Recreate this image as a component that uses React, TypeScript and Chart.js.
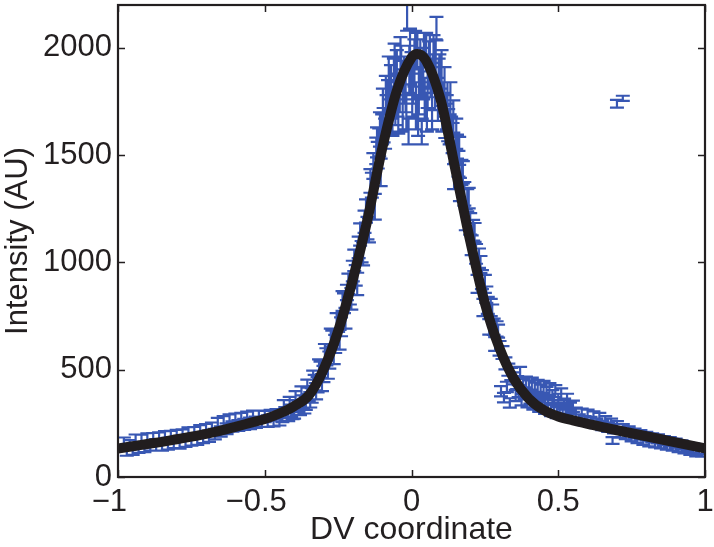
import React, { useEffect, useRef } from "react";
import { Chart, registerables } from "chart.js";

Chart.register(...registerables);

// ---- Measured profile (blue error bars), read region by region ----
const leftTailX = [-0.98, -0.97, -0.96, -0.95, -0.94, -0.93, -0.92, -0.91, -0.9, -0.89, -0.88, -0.87, -0.86, -0.85, -0.84, -0.83, -0.82, -0.81, -0.8, -0.79, -0.78, -0.77, -0.76, -0.75, -0.74, -0.73, -0.72, -0.71, -0.7, -0.69, -0.68, -0.67, -0.66, -0.65, -0.64, -0.63, -0.62, -0.61, -0.6, -0.59, -0.58, -0.57, -0.56, -0.55, -0.54, -0.53, -0.52, -0.51, -0.5, -0.49, -0.48, -0.47, -0.46, -0.45];
const leftTailY = [160, 125, 150, 128, 170, 135, 172, 140, 178, 145, 180, 150, 185, 148, 190, 155, 192, 160, 196, 158, 200, 165, 205, 170, 210, 175, 215, 182, 222, 190, 230, 200, 248, 212, 258, 225, 265, 235, 270, 240, 275, 245, 280, 250, 285, 255, 285, 258, 282, 260, 288, 262, 292, 268];
const leftTailErr = [24, 26, 22, 25, 28, 23, 25, 24, 26, 22, 25, 27, 23, 25, 24, 27, 23, 25, 24, 26, 22, 25, 27, 24, 23, 25, 27, 24, 25, 26, 24, 25, 28, 24, 26, 25, 27, 24, 26, 25, 24, 26, 25, 27, 24, 26, 25, 24, 26, 27, 25, 26, 24, 28];

const leftFlankX = [-0.44, -0.43, -0.42, -0.41, -0.4, -0.39, -0.38, -0.37, -0.36, -0.35, -0.34, -0.33, -0.32, -0.31, -0.3, -0.29, -0.28, -0.27, -0.26, -0.25, -0.24, -0.23, -0.22, -0.21, -0.2, -0.19, -0.18, -0.17, -0.16, -0.15, -0.14, -0.13, -0.12, -0.11, -0.1];
const leftFlankY = [280, 300, 285, 310, 298, 330, 318, 350, 345, 385, 380, 440, 430, 500, 480, 560, 545, 640, 620, 720, 700, 810, 860, 850, 960, 940, 1070, 1050, 1190, 1160, 1380, 1450, 1520, 1560, 1620];
const leftFlankErr = [24, 26, 25, 28, 26, 28, 30, 30, 32, 32, 34, 36, 36, 38, 38, 40, 40, 42, 42, 44, 44, 46, 36, 46, 48, 48, 50, 50, 52, 52, 55, 60, 62, 65, 70];

const leftFlank2X = [-0.435, -0.425, -0.415, -0.405, -0.395, -0.385, -0.375, -0.365, -0.355, -0.345, -0.335, -0.325, -0.315, -0.305, -0.295, -0.285, -0.275, -0.265, -0.255, -0.245, -0.235, -0.225, -0.215, -0.205, -0.195, -0.185, -0.175, -0.165, -0.155, -0.145, -0.135, -0.125, -0.115, -0.105];
const leftFlank2Y = [330, 290, 345, 300, 370, 320, 390, 330, 420, 360, 460, 400, 510, 440, 580, 500, 650, 570, 720, 640, 820, 740, 900, 830, 1010, 900, 1130, 1040, 1240, 1150, 1360, 1260, 1500, 1420];
const leftFlank2Err = [28, 30, 28, 30, 30, 32, 32, 34, 34, 36, 36, 38, 38, 40, 40, 42, 42, 44, 44, 46, 46, 48, 48, 50, 50, 52, 52, 54, 54, 56, 58, 60, 62, 64];

const peakX = [-0.095, -0.09, -0.085, -0.08, -0.075, -0.07, -0.065, -0.06, -0.055, -0.05, -0.045, -0.04, -0.035, -0.03, -0.025, -0.02, -0.015, -0.01, -0.005, 0, 0.005, 0.01, 0.015, 0.02, 0.025, 0.03, 0.035, 0.04, 0.045, 0.05, 0.055, 0.06, 0.065, 0.07, 0.075, 0.08, 0.085, 0.09, 0.095, 0.1, 0.105, 0.11, 0.115, 0.12, 0.125, 0.13];
const peakY = [1640, 1600, 1700, 1760, 1680, 1820, 1630, 1860, 1740, 1900, 1700, 1800, 1920, 1720, 1860, 1790, 2140, 1610, 1960, 1880, 1850, 1930, 1720, 1990, 1800, 1940, 1610, 1880, 1760, 1980, 1820, 1920, 1860, 1720, 1960, 1820, 2090, 1760, 1880, 1820, 1700, 1760, 1660, 1700, 1640, 1620];
const peakErr = [80, 70, 80, 90, 80, 100, 40, 90, 100, 90, 100, 100, 90, 110, 100, 90, 60, 60, 130, 100, 110, 110, 100, 80, 110, 100, 60, 120, 100, 90, 100, 110, 90, 100, 100, 110, 55, 100, 90, 90, 90, 80, 80, 80, 75, 70];

const peak2X = [-0.1175, -0.1075, -0.0975, -0.0875, -0.0775, -0.0675, -0.0575, -0.0475, -0.0375, -0.0275, -0.0175, -0.0075, 0.0025, 0.0125, 0.0225, 0.0325, 0.0425, 0.0525, 0.0625, 0.0725, 0.0825, 0.0925, 0.1025, 0.1125, 0.1225, 0.1325, 0.1425, 0.1525, 0.1625];
const peak2Y = [1560, 1620, 1720, 1780, 1860, 1700, 1920, 1780, 1960, 1840, 1700, 1900, 1780, 1990, 1680, 1860, 1990, 1700, 1960, 1880, 1940, 1860, 1900, 1820, 1760, 1760, 1680, 1600, 1520];
const peak2Err = [70, 80, 90, 90, 100, 90, 100, 100, 90, 100, 80, 110, 100, 90, 90, 100, 80, 90, 100, 90, 100, 90, 90, 90, 80, 80, 75, 70, 65];

const rightFlankX = [0.14, 0.15, 0.16, 0.17, 0.18, 0.19, 0.2, 0.21, 0.22, 0.23, 0.24, 0.25, 0.26, 0.27, 0.28, 0.29, 0.3, 0.305, 0.31, 0.315, 0.32, 0.325, 0.33, 0.335, 0.34];
const rightFlankY = [1580, 1530, 1460, 1420, 1320, 1290, 1180, 1150, 1040, 1020, 920, 900, 800, 790, 700, 690, 600, 400, 580, 370, 530, 420, 500, 345, 480];
const rightFlankErr = [70, 65, 60, 58, 55, 52, 50, 48, 46, 45, 44, 42, 40, 40, 38, 36, 34, 24, 30, 22, 28, 24, 28, 22, 28];

const rightFlank2X = [0.135, 0.145, 0.155, 0.165, 0.175, 0.185, 0.195, 0.205, 0.215, 0.225, 0.235, 0.245, 0.255, 0.265, 0.275, 0.285, 0.295];
const rightFlank2Y = [1620, 1400, 1540, 1340, 1420, 1200, 1300, 1080, 1140, 900, 990, 790, 850, 700, 770, 620, 680];
const rightFlank2Err = [60, 58, 56, 54, 52, 50, 48, 46, 44, 42, 40, 40, 38, 36, 34, 32, 30];

const rightTailX = [0.35, 0.36, 0.37, 0.38, 0.39, 0.4, 0.41, 0.42, 0.43, 0.44, 0.45, 0.46, 0.47, 0.48, 0.49, 0.5, 0.51, 0.52, 0.53, 0.54, 0.55, 0.56, 0.57, 0.58, 0.59, 0.6, 0.61, 0.62, 0.63, 0.64, 0.65, 0.66, 0.67, 0.68, 0.685, 0.69, 0.7, 0.71, 0.72, 0.73, 0.74, 0.75, 0.76, 0.77, 0.78, 0.79, 0.8, 0.81, 0.82, 0.83, 0.84, 0.85, 0.86, 0.87, 0.88, 0.89, 0.9, 0.91, 0.92, 0.93, 0.94, 0.95, 0.96, 0.97, 0.98, 0.99];
const rightTailY = [460, 440, 485, 430, 440, 420, 435, 410, 425, 400, 420, 390, 410, 375, 400, 360, 385, 340, 360, 320, 330, 300, 270, 295, 262, 290, 258, 282, 250, 275, 240, 262, 232, 250, 170, 225, 238, 205, 225, 198, 215, 188, 205, 180, 198, 172, 190, 165, 182, 160, 178, 155, 170, 150, 165, 145, 158, 138, 150, 132, 142, 125, 135, 118, 128, 115];
const rightTailErr = [28, 30, 28, 30, 28, 30, 28, 30, 28, 30, 28, 30, 28, 30, 28, 28, 28, 26, 28, 26, 26, 24, 22, 24, 22, 24, 22, 24, 22, 24, 22, 22, 22, 22, 16, 22, 22, 22, 21, 22, 21, 22, 21, 22, 21, 22, 21, 22, 21, 22, 21, 22, 21, 22, 21, 22, 21, 22, 21, 22, 21, 22, 21, 22, 21, 20];

const shoulderX = [0.355, 0.365, 0.375, 0.385, 0.395, 0.405, 0.415, 0.425, 0.435, 0.445, 0.455, 0.465, 0.475, 0.485, 0.495, 0.505, 0.515, 0.525, 0.535, 0.545];
const shoulderY = [380, 400, 360, 390, 350, 370, 340, 360, 330, 350, 320, 340, 310, 330, 300, 320, 295, 310, 290, 300];
const shoulderErr = [26, 28, 26, 28, 26, 28, 26, 28, 26, 28, 26, 28, 26, 28, 26, 26, 24, 26, 24, 24];

const outlierX = [0.7, 0.72];
const outlierY = [1740, 1765];
const outlierErr = [18, 12];

// ---- Fitted curve (black) ----
const fitX = [-1, -0.95, -0.9, -0.85, -0.8, -0.75, -0.7, -0.65, -0.6, -0.55, -0.5, -0.45, -0.4, -0.35, -0.3, -0.25, -0.2, -0.15, -0.1, -0.05, 0, 0.02, 0.05, 0.1, 0.15, 0.2, 0.25, 0.3, 0.35, 0.4, 0.45, 0.5, 0.55, 0.6, 0.65, 0.7, 0.75, 0.8, 0.85, 0.9, 0.95, 1];
const fitY = [133, 143, 154, 164, 176, 188, 201, 216, 234, 252, 270, 296, 330, 380, 500, 680, 920, 1200, 1530, 1800, 1955, 1972, 1940, 1755, 1430, 1100, 810, 600, 455, 365, 312, 282, 264, 248, 232, 218, 204, 190, 176, 161, 147, 133];

// ---- Axis ticks ----
const xTicks = [-1, -0.5, 0, 0.5, 1];
const yTicks = [0, 500, 1000, 1500, 2000];

const BAR_COLOR = "#3857b3";
const CURVE_COLOR = "#211d1e";
const INK = "#231f20";
const FONT = "'Liberation Sans', Arial, Helvetica, sans-serif";

function zipRegion(xs: number[], ys: number[], es: number[]) {
  const n = Math.min(xs.length, ys.length, es.length);
  const pts: { x: number; y: number; e: number }[] = [];
  for (let i = 0; i < n; i++) pts.push({ x: xs[i], y: ys[i], e: es[i] });
  return pts;
}

const errorBarPlugin = {
  id: "errorBars",
  beforeDatasetsDraw(chart: any) {
    const ds = chart.data.datasets[0];
    const xs = chart.scales.x;
    const ys = chart.scales.y;
    const ctx = chart.ctx as CanvasRenderingContext2D;
    const a = chart.chartArea;
    const cap = 7;
    ctx.save();
    ctx.beginPath();
    ctx.rect(a.left, a.top, a.right - a.left, a.bottom - a.top);
    ctx.clip();
    ctx.strokeStyle = BAR_COLOR;
    ctx.lineWidth = 2.2;
    ctx.beginPath();
    ds.data.forEach((p: any) => {
      const px = xs.getPixelForValue(p.x);
      const lo = ys.getPixelForValue(p.y - p.e);
      const hi = ys.getPixelForValue(p.y + p.e);
      ctx.moveTo(px, lo);
      ctx.lineTo(px, hi);
      ctx.moveTo(px - cap, lo);
      ctx.lineTo(px + cap, lo);
      ctx.moveTo(px - cap, hi);
      ctx.lineTo(px + cap, hi);
    });
    ctx.stroke();
    ctx.restore();
  },
};

const framePlugin = {
  id: "frame",
  afterDraw(chart: any) {
    const ctx = chart.ctx as CanvasRenderingContext2D;
    const a = chart.chartArea;
    const xs = chart.scales.x;
    const ys = chart.scales.y;
    const tl = 7;
    ctx.save();
    ctx.strokeStyle = INK;
    ctx.lineWidth = 1.5;
    ctx.beginPath();
    xTicks.forEach((v) => {
      const px = Math.round(xs.getPixelForValue(v)) + 0.5;
      ctx.moveTo(px, a.bottom);
      ctx.lineTo(px, a.bottom - tl);
      ctx.moveTo(px, a.top);
      ctx.lineTo(px, a.top + tl);
    });
    yTicks.forEach((v) => {
      const py = Math.round(ys.getPixelForValue(v)) + 0.5;
      ctx.moveTo(a.left, py);
      ctx.lineTo(a.left + tl, py);
      ctx.moveTo(a.right, py);
      ctx.lineTo(a.right - tl, py);
    });
    ctx.stroke();
    ctx.lineWidth = 2.2;
    ctx.strokeRect(a.left, a.top, a.right - a.left, a.bottom - a.top);
    ctx.restore();
  },
};

function zeroPadding(s: any) {
  s.paddingTop = 0;
  s.paddingBottom = 0;
  s.paddingLeft = 0;
  s.paddingRight = 0;
}

export default function App() {
  const ref = useRef<HTMLCanvasElement | null>(null);

  useEffect(() => {
    if (!ref.current) return;
    const measured = [
      ...zipRegion(leftTailX, leftTailY, leftTailErr),
      ...zipRegion(leftFlankX, leftFlankY, leftFlankErr),
      ...zipRegion(leftFlank2X, leftFlank2Y, leftFlank2Err),
      ...zipRegion(peakX, peakY, peakErr),
      ...zipRegion(peak2X, peak2Y, peak2Err),
      ...zipRegion(rightFlankX, rightFlankY, rightFlankErr),
      ...zipRegion(rightFlank2X, rightFlank2Y, rightFlank2Err),
      ...zipRegion(rightTailX, rightTailY, rightTailErr),
      ...zipRegion(shoulderX, shoulderY, shoulderErr),
      ...zipRegion(outlierX, outlierY, outlierErr),
    ];
    const fit = fitX.map((x, i) => ({ x, y: fitY[i] }));

    const chart = new Chart(ref.current, {
      type: "scatter",
      data: {
        datasets: [
          {
            label: "Measured",
            data: measured as any,
            pointRadius: 0,
            pointHoverRadius: 0,
            showLine: false,
            borderColor: BAR_COLOR,
            backgroundColor: BAR_COLOR,
          },
          {
            label: "Fit",
            data: fit,
            showLine: true,
            borderColor: CURVE_COLOR,
            borderWidth: 10,
            pointRadius: 0,
            pointHoverRadius: 0,
            cubicInterpolationMode: "monotone",
            borderCapStyle: "butt",
            borderJoinStyle: "round",
            fill: false,
          },
        ],
      },
      options: {
        responsive: false,
        animation: false,
        events: [],
        layout: { padding: { top: 5, right: 9, left: 0, bottom: 0 } },
        plugins: {
          legend: { display: false },
          tooltip: { enabled: false },
        },
        scales: {
          x: {
            type: "linear",
            min: -1,
            max: 1,
            grid: { display: false, drawTicks: false },
            border: { display: false },
            afterFit: (s: any) => {
              s.height = 70;
              zeroPadding(s);
            },
            afterBuildTicks: (s: any) => {
              s.ticks = xTicks.map((v) => ({ value: v }));
            },
            ticks: {
              padding: 7,
              maxRotation: 0,
              autoSkip: false,
              color: INK,
              font: { family: FONT, size: 31 },
              callback: (v: any) => {
                const n = Number(v);
                if (n < 0) return "\u2212" + String(Math.abs(n)) + "\u2007";
                return String(n);
              },
            },
            title: {
              display: true,
              text: "DV coordinate",
              color: INK,
              font: { family: FONT, size: 32, lineHeight: 1 },
              padding: { top: 0, bottom: 1 },
            },
          },
          y: {
            type: "linear",
            min: 0,
            max: 2200,
            grid: { display: false, drawTicks: false },
            border: { display: false },
            afterFit: (s: any) => {
              s.width = 118;
              zeroPadding(s);
            },
            afterBuildTicks: (s: any) => {
              s.ticks = yTicks.map((v) => ({ value: v }));
            },
            ticks: {
              padding: 6,
              autoSkip: false,
              color: INK,
              font: { family: FONT, size: 31 },
              callback: (v: any) => String(v),
            },
            title: {
              display: true,
              text: "Intensity (AU)",
              color: INK,
              font: { family: FONT, size: 31, lineHeight: 1 },
              padding: { top: 3, bottom: 0 },
            },
          },
        },
      },
      plugins: [errorBarPlugin, framePlugin],
    });
    return () => chart.destroy();
  }, []);

  return (
    <div style={{ position: "fixed", left: 0, top: 0, width: 714, height: 547, background: "#fff" }}>
      <canvas ref={ref} width={714} height={547} style={{ display: "block" }} />
    </div>
  );
}
